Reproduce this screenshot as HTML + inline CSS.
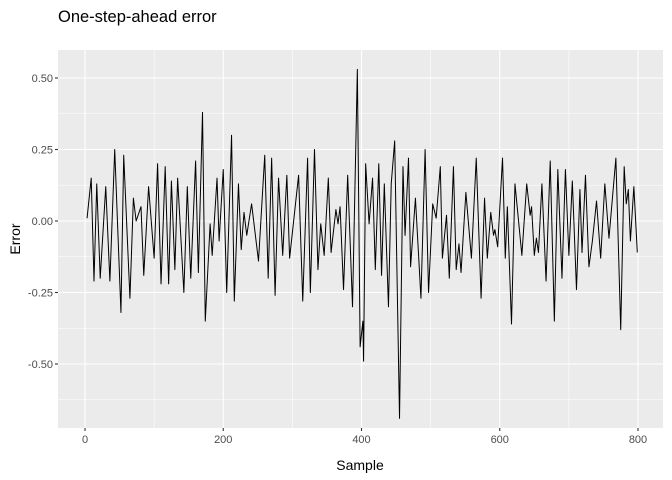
<!DOCTYPE html>
<html><head><meta charset="utf-8"><style>
body{margin:0;background:#fff;}
svg{display:block;font-family:"Liberation Sans",sans-serif;}
</style></head><body>
<svg id="chart" width="672" height="480">
<rect x="0" y="0" width="672" height="480" fill="#fff"/>
<text x="58" y="22" font-size="16.5" fill="#000">One-step-ahead error</text>
<rect x="58" y="50" width="605" height="378" fill="#ebebeb"/>
<g id="grid"></g>
<g id="axes"></g>
<path id="line" fill="none" stroke="#000" stroke-width="1" stroke-linejoin="round"/>
<text x="360" y="470" font-size="14" text-anchor="middle" fill="#000">Sample</text>
<text x="20" y="239" font-size="14" text-anchor="middle" fill="#000" transform="rotate(-90 20 239)">Error</text>
</svg>
<script>
const samples=[3,9,13,17,22,30,36,43,52,56,65,70,74,81,85,92,100,105,110,116,121,125,130,134,143,148,153,160,164,170,174,181,184,191,194,200,205,212,216,222,226,230,234,241,251,260,265,270,275,280,286,292,296,309,315,322,326,332,337,341,346,352,356,363,366,369,374,380,387,394,398,402,403,406,411,416,420,425,429,433,439,443,448,455,460,463,468,471,478,486,492,497,503,508,514,517,523,527,533,537,541,544,551,559,566,573,578,582,587,591,593,597,604,608,611,617,622,632,639,644,646,650,653,656,661,667,673,679,684,690,695,700,705,711,716,719,724,729,734,740,746,752,758,768,775,780,783,786,789,794,799];
const errors=[0.01,0.15,-0.21,0.13,-0.20,0.12,-0.21,0.25,-0.32,0.23,-0.27,0.08,0.00,0.05,-0.19,0.12,-0.13,0.20,-0.22,0.19,-0.22,0.14,-0.17,0.15,-0.25,0.12,-0.20,0.21,-0.18,0.38,-0.35,-0.01,-0.12,0.15,-0.07,0.18,-0.25,0.30,-0.28,0.13,-0.10,0.03,-0.05,0.06,-0.14,0.23,-0.20,0.22,-0.26,0.15,-0.12,0.16,-0.13,0.16,-0.28,0.22,-0.25,0.25,-0.17,-0.01,-0.12,0.15,-0.11,0.04,-0.01,0.05,-0.24,0.16,-0.30,0.53,-0.44,-0.35,-0.49,0.20,-0.01,0.15,-0.17,0.20,-0.19,0.13,-0.30,0.13,0.28,-0.69,0.19,-0.05,0.22,-0.16,0.08,-0.27,0.25,-0.25,0.06,0.01,0.19,-0.13,0.02,-0.20,0.19,-0.17,-0.08,-0.18,0.10,-0.13,0.22,-0.27,0.08,-0.13,0.03,-0.05,-0.03,-0.09,0.22,-0.13,0.05,-0.36,0.13,-0.12,0.13,0.02,0.05,-0.12,-0.06,-0.11,0.13,-0.21,0.21,-0.35,0.18,-0.20,0.18,-0.12,0.14,-0.24,0.11,-0.11,0.16,-0.16,-0.07,0.07,-0.13,0.13,-0.06,0.22,-0.38,0.19,0.06,0.11,-0.07,0.12,-0.11];
const xTicks=[0,200,400,600,800];
const xMinor=[100,300,500,700];
const yTicks=[-0.5,-0.25,0,0.25,0.5];
const yTickLabels=["-0.50","-0.25","0.00","0.25","0.50"];
const yMinor=[-0.625,-0.375,-0.125,0.125,0.375];

const X=v=>85+v*0.69125;
const Y=v=>221-v*286;
const NS='http://www.w3.org/2000/svg';
const grid=document.getElementById('grid'),axes=document.getElementById('axes');
function ln(p,x1,y1,x2,y2,c,w){const l=document.createElementNS(NS,'line');l.setAttribute('x1',x1);l.setAttribute('y1',y1);l.setAttribute('x2',x2);l.setAttribute('y2',y2);l.setAttribute('stroke',c);l.setAttribute('stroke-width',w);p.appendChild(l);return l;}
function tx(p,x,y,s,a){const t=document.createElementNS(NS,'text');t.setAttribute('x',x);t.setAttribute('y',y);t.setAttribute('font-size','11');t.setAttribute('fill','#4d4d4d');t.setAttribute('text-anchor',a);t.textContent=s;p.appendChild(t);return t;}
xMinor.forEach(v=>{const l=ln(grid,X(v),50,X(v),428,'#fff',0.55);

});
yMinor.forEach(v=>{const l=ln(grid,58,Y(v),663,Y(v),'#fff',0.55);

});
xTicks.forEach(v=>{const l=ln(grid,X(v),50,X(v),428,'#fff',1.1);


const k=ln(axes,X(v),428,X(v),431,'#333',1.1);


const t=tx(axes,X(v),443,String(v),'middle');

});
yTicks.forEach((v,i)=>{const l=ln(grid,58,Y(v),663,Y(v),'#fff',1.1);


const k=ln(axes,55,Y(v),58,Y(v),'#333',1.1);


const t=tx(axes,53,Y(v)+4,yTickLabels[i],'end');

});
document.getElementById('line').setAttribute('d',samples.map((s,i)=>(i?'L':'M')+X(s).toFixed(2)+','+Y(errors[i]).toFixed(2)).join(''));
</script>
</body></html>
